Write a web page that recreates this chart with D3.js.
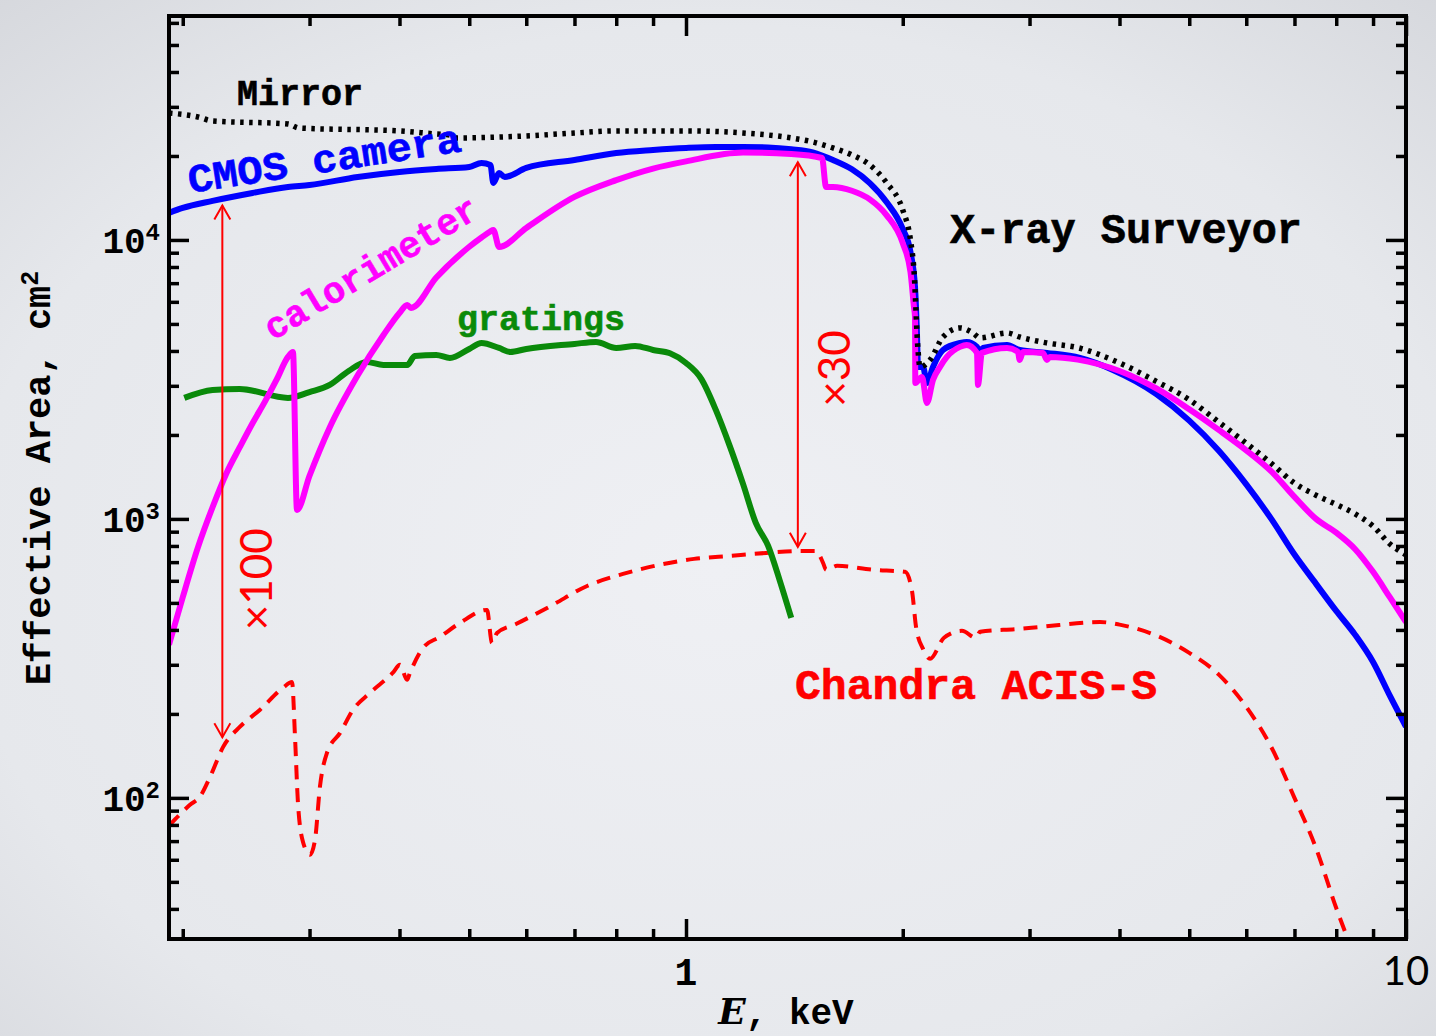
<!DOCTYPE html>
<html>
<head>
<meta charset="utf-8">
<script src="https://cdn.jsdelivr.net/npm/d3@7"></script>
<style>
  html, body { margin: 0; padding: 0; }
  body { width: 1436px; height: 1036px; overflow: hidden; }
  svg text { font-family: "Liberation Mono", monospace; font-weight: bold; }
</style>
</head>
<body>
<svg id="chart"></svg>
<script>
// Energies in keV, effective areas in cm^2
const mirrorE = [0.1914, 0.21, 0.22, 0.28, 0.29, 0.4, 0.45, 0.47, 0.48, 0.6, 0.7, 0.8, 1.0, 1.2, 1.4, 1.5, 1.6, 1.7, 1.8, 1.9, 2.0, 2.05, 2.073, 2.1, 2.113, 2.183, 2.275, 2.402, 2.504, 2.561, 2.792, 2.907, 3.172, 3.5, 4.0, 4.5, 5.0, 5.5, 6.0, 6.5, 7.0, 7.5, 8.0, 8.5, 9.0, 9.5, 10];
const mirrorA = [28500, 27600, 26700, 26050, 25200, 24590, 23980, 23790, 23210, 23600, 24180, 24590, 24590, 24180, 23210, 22450, 21370, 20170, 18570, 16010, 12810, 10000, 7805, 4033, 3506, 3715, 4490, 4837, 4640, 4455, 4640, 4490, 4273, 4111, 3623, 3112, 2675, 2220, 1867, 1583, 1343, 1216, 1127, 1042, 942, 813, 743];

const cmosE = [0.1914, 0.2, 0.22, 0.25, 0.28, 0.3, 0.35, 0.4, 0.45, 0.5, 0.52, 0.535, 0.54, 0.55, 0.56, 0.6, 0.7, 0.8, 0.9, 1.0, 1.1, 1.2, 1.3, 1.4, 1.5, 1.6, 1.7, 1.8, 1.9, 2.0, 2.05, 2.08, 2.093, 2.1, 2.134, 2.161, 2.203, 2.275, 2.402, 2.454, 2.536, 2.561, 2.585, 2.792, 2.907, 3.172, 3.525, 3.917, 4.5, 5.0, 5.5, 6.0, 6.5, 7.0, 7.5, 8.0, 8.5, 9.0, 9.5, 10];
const cmosA = [12500, 13020, 13800, 14740, 15490, 15740, 16820, 17530, 17970, 18270, 18880, 18570, 16010, 17390, 16820, 18120, 19350, 20500, 21020, 21370, 21540, 21540, 21460, 21150, 20610, 19350, 17910, 15980, 13640, 10950, 9058, 6785, 4640, 3506, 3506, 3072, 3506, 4033, 4273, 4310, 4137, 3936, 4100, 4203, 4033, 3936, 3777, 3420, 2805, 2251, 1752, 1330, 1000, 745, 585, 468, 384, 307, 232, 180];

const calE = [0.1914, 0.2, 0.21, 0.22, 0.23, 0.24, 0.25, 0.26, 0.27, 0.28, 0.2845, 0.2882, 0.3, 0.32, 0.35, 0.38, 0.4, 0.41, 0.415, 0.45, 0.5, 0.52, 0.535, 0.54, 0.55, 0.6, 0.7, 0.8, 0.9, 1.0, 1.2, 1.4, 1.545, 1.565, 1.6, 1.7, 1.8, 1.9, 2.0, 2.05, 2.073, 2.08, 2.082, 2.127, 2.161, 2.203, 2.253, 2.303, 2.402, 2.454, 2.536, 2.544, 2.576, 2.792, 2.891, 2.907, 2.938, 3.132, 3.172, 3.201, 3.5, 4.0, 4.5, 5.0, 5.5, 6.0, 6.5, 7.0, 7.5, 8.0, 8.5, 9.0, 9.5, 10];
const calA = [354, 524, 792, 1101, 1459, 1807, 2203, 2627, 3155, 3808, 3968, 1077, 1428, 2128, 3274, 4565, 5474, 5850, 5704, 7332, 9454, 10210, 10730, 10860, 9438, 11040, 14260, 16380, 18030, 19130, 20570, 20330, 19670, 15490, 15490, 15010, 13980, 12250, 9740, 7680, 5754, 5300, 3072, 3228, 2604, 3149, 3506, 3808, 4137, 4203, 3936, 3022, 3936, 4100, 3968, 3715, 3968, 3936, 3715, 3808, 3725, 3391, 2935, 2472, 2081, 1762, 1481, 1199, 1000, 893, 779, 646, 523, 427];

const gratE = [0.201, 0.22, 0.24, 0.28, 0.3, 0.32, 0.34, 0.36, 0.38, 0.41, 0.42, 0.45, 0.47, 0.5, 0.52, 0.55, 0.57, 0.6, 0.7, 0.75, 0.8, 0.85, 0.9, 0.95, 1.0, 1.05, 1.1, 1.15, 1.2, 1.25, 1.3, 1.35, 1.4];
const gratA = [2715, 2900, 2924, 2715, 2850, 3022, 3391, 3654, 3565, 3565, 3840, 3872, 3777, 4067, 4273, 4100, 3968, 4067, 4240, 4310, 4100, 4170, 4033, 3925, 3623, 3177, 2459, 1827, 1335, 968, 802, 600, 442];

const acisE = [0.1914, 0.2047, 0.2113, 0.2183, 0.2275, 0.2402, 0.2561, 0.2756, 0.2837, 0.2864, 0.2891, 0.2938, 0.3005, 0.3053, 0.3102, 0.3172, 0.3308, 0.3448, 0.364, 0.3917, 0.4007, 0.4098, 0.4137, 0.4312, 0.4554, 0.4855, 0.5292, 0.5377, 0.5464, 0.5806, 0.6494, 0.7289, 0.8176, 0.9173, 1.026, 1.151, 1.292, 1.444, 1.516, 1.55, 1.566, 1.621, 1.819, 2.015, 2.06, 2.087, 2.134, 2.183, 2.282, 2.417, 2.528, 2.561, 2.873, 3.102, 3.758, 4.0, 4.5, 5.0, 5.5, 6.0, 6.5, 7.0, 7.5, 8.0, 8.5];
const acisA = [79.4, 94.4, 101, 119, 152, 180, 207, 248, 260, 165, 96, 69.5, 62.5, 70.7, 110, 145, 171, 207, 238, 281, 300, 265, 281, 345, 378, 424, 472, 359, 390, 420, 488, 575, 635, 684, 719, 737, 755, 768, 768, 696, 657, 679, 657, 646, 552, 410, 342, 315, 375, 397, 375, 394, 403, 410, 427, 418, 382, 331, 276, 212, 152, 100, 66, 40.3, 26.7];

// ratio arrows: energy, top area, bottom area
const arrowE = [0.227, 1.43];
const arrowTop = [13300, 19000];
const arrowBottom = [165, 794];
const arrowText = ["\u00d7100", "\u00d730"];

// ticks
const yMajor = [100, 1000, 10000];
const yMajorLabels = [["10", "2"], ["10", "3"], ["10", "4"]];
const yMinor = [40, 50, 60, 70, 80, 90, 200, 300, 400, 500, 600, 700, 800, 900,
                2000, 3000, 4000, 5000, 6000, 7000, 8000, 9000, 20000, 30000, 40000, 50000, 60000];
const xMajor = [1, 10];
const xMajorLabels = ["1", "10"];
const xMinor = [0.2, 0.3, 0.4, 0.5, 0.6, 0.7, 0.8, 0.9, 2, 3, 4, 5, 6, 7, 8, 9];

const W = 1436, H = 1036;
const plot = { left: 169, right: 1406, top: 16, bottom: 939 };

const svg = d3.select("#chart").attr("width", W).attr("height", H);

// soft grey slide background
const defs = svg.append("defs");
const grad = defs.append("radialGradient").attr("id", "bg")
    .attr("cx", "50%").attr("cy", "55%").attr("r", "75%");
grad.append("stop").attr("offset", "0%").attr("stop-color", "#eff0f4");
grad.append("stop").attr("offset", "70%").attr("stop-color", "#e6e8ec");
grad.append("stop").attr("offset", "100%").attr("stop-color", "#d6d8dd");
svg.append("rect").attr("width", W).attr("height", H).attr("fill", "url(#bg)");

defs.append("clipPath").attr("id", "plotclip")
    .append("rect")
    .attr("x", plot.left).attr("y", plot.top)
    .attr("width", plot.right - plot.left).attr("height", plot.bottom - plot.top);

const x = d3.scaleLog().domain([0.1914, 10]).range([plot.left, plot.right]);
const y = d3.scaleLog().domain([31.2, 63500]).range([plot.bottom, plot.top]);

// Curves
const line = d3.line().x(d => x(d[0])).y(d => y(d[1])).curve(d3.curveMonotoneX);
const curves = svg.append("g").attr("clip-path", "url(#plotclip)")
    .attr("fill", "none").attr("stroke-linejoin", "round");

curves.append("path").datum(d3.zip(acisE, acisA))
    .attr("d", line).attr("stroke", "#ff0000").attr("stroke-width", 4)
    .attr("stroke-dasharray", "14,9");

curves.append("path").datum(d3.zip(gratE, gratA))
    .attr("d", line).attr("stroke", "#0a8a0a").attr("stroke-width", 6);

curves.append("path").datum(d3.zip(cmosE, cmosA))
    .attr("d", line).attr("stroke", "#0000ff").attr("stroke-width", 6);

curves.append("path").datum(d3.zip(calE, calA))
    .attr("d", line).attr("stroke", "#ff00ff").attr("stroke-width", 6);

curves.append("path").datum(d3.zip(mirrorE, mirrorA))
    .attr("d", line).attr("stroke", "#000").attr("stroke-width", 5.5)
    .attr("stroke-dasharray", "3.5,5.5");

// Axes: inward ticks on all four sides
function ticks(axis, transform, vals, size) {
    svg.append("g").attr("transform", transform)
        .call(axis.tickValues(vals).tickSize(size).tickSizeOuter(0).tickFormat(""))
        .call(g => g.select(".domain").remove())
        .call(g => g.selectAll(".tick line").attr("stroke", "#000").attr("stroke-width", 3.5));
}
ticks(d3.axisLeft(y), `translate(${plot.left},0)`, yMajor, -20);
ticks(d3.axisLeft(y), `translate(${plot.left},0)`, yMinor, -10);
ticks(d3.axisRight(y), `translate(${plot.right},0)`, yMajor, -20);
ticks(d3.axisRight(y), `translate(${plot.right},0)`, yMinor, -10);
ticks(d3.axisBottom(x), `translate(0,${plot.bottom})`, xMajor, -20);
ticks(d3.axisBottom(x), `translate(0,${plot.bottom})`, xMinor, -10);
ticks(d3.axisTop(x), `translate(0,${plot.top})`, xMajor, -20);
ticks(d3.axisTop(x), `translate(0,${plot.top})`, xMinor, -10);

svg.append("rect")
    .attr("x", plot.left).attr("y", plot.top)
    .attr("width", plot.right - plot.left).attr("height", plot.bottom - plot.top)
    .attr("fill", "none").attr("stroke", "#000").attr("stroke-width", 4);

// Tick labels
yMajor.forEach((v, i) => {
    const t = svg.append("text")
        .attr("x", 160).attr("y", y(v) + 13)
        .attr("text-anchor", "end")
        .style("font-size", "36px");
    t.append("tspan").text(yMajorLabels[i][0]);
    t.append("tspan").attr("dy", -13).style("font-size", "24px").text(yMajorLabels[i][1]);
});

svg.append("text")
    .attr("x", x(xMajor[0])).attr("y", 985)
    .attr("text-anchor", "middle")
    .style("font-size", "38px")
    .text(xMajorLabels[0]);
svg.append("text")
    .attr("x", x(xMajor[1])).attr("y", 985)
    .attr("text-anchor", "middle")
    .style("font-family", "Lato, sans-serif").style("font-weight", "normal")
    .style("font-size", "40px")
    .text(xMajorLabels[1]);

// Axis titles
const yt = svg.append("text")
    .attr("transform", "translate(50,478) rotate(-90)")
    .attr("text-anchor", "middle")
    .style("font-size", "37px");
yt.append("tspan").text("Effective Area, cm");
yt.append("tspan").attr("dy", -12).style("font-size", "25px").text("2");

const xt = svg.append("text")
    .attr("x", 786).attr("y", 1024)
    .attr("text-anchor", "middle")
    .style("font-size", "36px");
xt.append("tspan").style("font-style", "italic").style("font-family", "'DejaVu Serif', serif").text("E");
xt.append("tspan").text(", keV");

// Curve labels
function label(txt, color, tx, ty, angle, size, len) {
    svg.append("text")
        .attr("transform", `translate(${tx},${ty}) rotate(${angle})`)
        .attr("fill", color)
        .attr("stroke", color).attr("stroke-width", 0.6)
        .attr("textLength", len).attr("lengthAdjust", "spacingAndGlyphs")
        .style("font-size", size + "px")
        .text(txt);
}
label("Mirror", "#000", 237, 105, 0, 36, 126);
label("CMOS camera", "#0000ff", 190, 193, -8.7, 40, 276);
label("calorimeter", "#ff00ff", 273, 341, -31, 37, 243);
label("gratings", "#0a8a0a", 457, 330, 0, 35, 168);
label("X-ray Surveyor", "#000", 950, 243, 0, 42, 352);
label("Chandra ACIS-S", "#ff0000", 795, 699, 0, 42, 362);

// Ratio arrows
const arrows = svg.append("g").attr("stroke", "#ff0000").attr("stroke-width", 2).attr("fill", "none");
arrowE.forEach((e, i) => {
    const ax = x(e), y0 = y(arrowTop[i]), y1 = y(arrowBottom[i]);
    arrows.append("line").attr("x1", ax).attr("x2", ax).attr("y1", y0).attr("y2", y1);
    arrows.append("path").attr("d", `M${ax - 8},${y0 + 14} L${ax},${y0} L${ax + 8},${y0 + 14}`);
    arrows.append("path").attr("d", `M${ax - 8},${y1 - 14} L${ax},${y1} L${ax + 8},${y1 - 14}`);
});
svg.append("text")
    .attr("transform", `translate(${x(arrowE[0]) + 50},${y(arrowBottom[0]) - 107}) rotate(-90)`)
    .attr("fill", "#ff0000")
    .style("font-family", "Lato, sans-serif").style("font-weight", "normal")
    .style("font-size", "44px")
    .text(arrowText[0]);
svg.append("text")
    .attr("transform", `translate(${x(arrowE[1]) + 52},${y(arrowBottom[1]) - 140}) rotate(-90)`)
    .attr("fill", "#ff0000")
    .style("font-family", "Lato, sans-serif").style("font-weight", "normal")
    .style("font-size", "44px")
    .text(arrowText[1]);
</script>
</body>
</html>
